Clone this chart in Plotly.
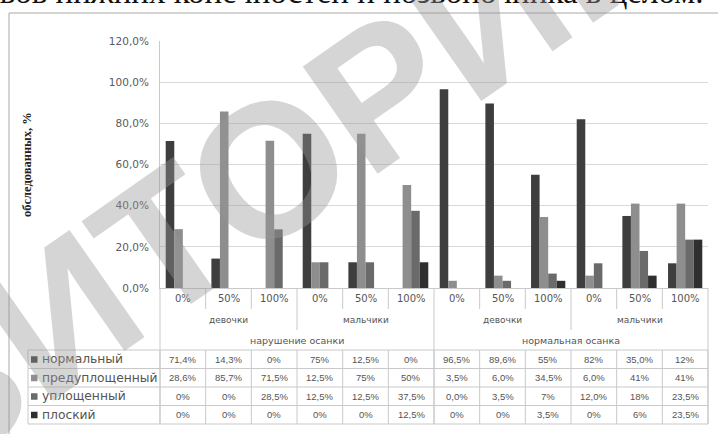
import plotly.graph_objects as go

# ---- data ---------------------------------------------------------------
categories = ["0%", "50%", "100%", "0%", "50%", "100%",
              "0%", "50%", "100%", "0%", "50%", "100%"]
subgroups = ["девочки", "мальчики", "девочки", "мальчики"]
groups = ["нарушение осанки", "нормальная осанка"]
series_names = ["нормальный", "предуплощенный", "уплощенный", "плоский"]

normal_lbl = ["71,4%", "14,3%", "0%", "75%", "12,5%", "0%",
              "96,5%", "89,6%", "55%", "82%", "35,0%", "12%"]
preflat_lbl = ["28,6%", "85,7%", "71,5%", "12,5%", "75%", "50%",
               "3,5%", "6,0%", "34,5%", "6,0%", "41%", "41%"]
flattened_lbl = ["0%", "0%", "28,5%", "12,5%", "12,5%", "37,5%",
                 "0,0%", "3,5%", "7%", "12,0%", "18%", "23,5%"]
flat_lbl = ["0%", "0%", "0%", "0%", "0%", "12,5%",
            "0%", "0%", "3,5%", "0%", "6%", "23,5%"]

y_ticks = [0, 20, 40, 60, 80, 100, 120]
y_tick_text = ["0,0%", "20,0%", "40,0%", "60,0%", "80,0%", "100,0%", "120,0%"]

series_labels = [normal_lbl, preflat_lbl, flattened_lbl, flat_lbl]
series_colors = ["#3e3e3e", "#8e8e8e", "#6a6a6a", "#2f2f2f"]


def pct(s):
    return float(s.rstrip("%").replace(",", "."))


# ---- geometry (pixels) --------------------------------------------------
W, H = 718, 434
PL, PR, PT, PB = 160, 708, 41, 288
N = len(categories)


def fx(p):
    return (p - PL) / (PR - PL)


def fy(p):
    return (PB - p) / (PB - PT)


def bx(b):
    # paper x of a boundary between categories (b = -0.5 ... N-0.5)
    return (b + 0.5) / N


fig = go.Figure()
for name, labels, color in zip(series_names, series_labels, series_colors):
    fig.add_trace(go.Bar(
        x=list(range(N)), y=[pct(s) for s in labels], name=name,
        marker=dict(color=color, line=dict(width=0)),
        showlegend=False,
    ))

axis_font = dict(family="DejaVu Sans", size=10.5, color="#5a5a5a")
small_font = dict(family="Liberation Sans Narrow, Liberation Sans", size=9.5, color="#555555")
label_font = dict(family="DejaVu Sans", size=10, color="#555555")
grid = "#d9d9d9"
line_c = "#c9c9c9"

shapes = []
annotations = []

# outer frame of the chart
shapes.append(dict(type="rect", xref="paper", yref="paper",
                   x0=fx(9), x1=fx(722), y0=fy(13), y1=fy(440),
                   line=dict(color="#a8a8a8", width=1), layer="below"))

# header separators below the category axis
for b in range(N + 1):
    bnd = b - 0.5
    if b in (0, 6, 12):
        y_end = 424
    elif b in (3, 9):
        y_end = 330
    else:
        y_end = 309
    shapes.append(dict(type="line", xref="paper", yref="paper",
                       x0=bx(bnd), x1=bx(bnd), y0=fy(PB), y1=fy(y_end),
                       line=dict(color=line_c, width=1)))
    # table column lines
    shapes.append(dict(type="line", xref="paper", yref="paper",
                       x0=bx(bnd), x1=bx(bnd), y0=fy(350), y1=fy(424),
                       line=dict(color=line_c, width=1)))

# table horizontal lines and left border
row_edges = [350, 368.5, 387, 405.5, 424]
for yy in row_edges:
    shapes.append(dict(type="line", xref="paper", yref="paper",
                       x0=fx(28), x1=fx(PR), y0=fy(yy), y1=fy(yy),
                       line=dict(color=line_c, width=1)))
shapes.append(dict(type="line", xref="paper", yref="paper",
                   x0=fx(28), x1=fx(28), y0=fy(350), y1=fy(424),
                   line=dict(color=line_c, width=1)))

# category labels (first header row)
for i, c in enumerate(categories):
    annotations.append(dict(x=i, y=fy(298.5), xref="x", yref="paper", text=c,
                            showarrow=False, font=label_font,
                            xanchor="center", yanchor="middle"))
# sub-group labels
for k, s in enumerate(subgroups):
    annotations.append(dict(x=3 * k + 1, y=fy(320), xref="x", yref="paper", text=s,
                            showarrow=False, font=dict(label_font, size=9),
                            xanchor="center", yanchor="middle"))
# group labels
for k, g in enumerate(groups):
    annotations.append(dict(x=6 * k + 2.5, y=fy(340), xref="x", yref="paper", text=g,
                            showarrow=False, font=dict(label_font, size=9.5),
                            xanchor="center", yanchor="middle"))

# data table rows
for r, (name, labels, color) in enumerate(zip(series_names, series_labels, series_colors)):
    yc = (row_edges[r] + row_edges[r + 1]) / 2
    shapes.append(dict(type="rect", xref="paper", yref="paper",
                       x0=fx(31), x1=fx(37.5), y0=fy(yc - 3), y1=fy(yc + 3.5),
                       fillcolor=color, line=dict(width=0)))
    annotations.append(dict(x=fx(40), y=fy(yc), xref="paper", yref="paper", text=name,
                            showarrow=False, font=dict(family="DejaVu Sans", size=12.3, color="#555555"),
                            xanchor="left", yanchor="middle"))
    for i, s in enumerate(labels):
        annotations.append(dict(x=i, y=fy(yc), xref="x", yref="paper", text=s,
                                showarrow=False, font=small_font,
                                xanchor="center", yanchor="middle"))

# y-axis title
annotations.append(dict(x=fx(27), y=fy(165), xref="paper", yref="paper",
                        text="<b>обследованных, %</b>", textangle=-90, showarrow=False,
                        font=dict(family="Liberation Serif", size=12.5, color="#222222"),
                        xanchor="center", yanchor="middle"))

# line of body text above the chart
annotations.append(dict(x=fx(705), y=fy(-8), xref="paper", yref="paper",
                        text="суставов нижних конечностей и позвоночника в целом.",
                        showarrow=False,
                        font=dict(family="Liberation Serif", size=33, color="#111111"),
                        xanchor="right", yanchor="middle"))

# repository watermark
annotations.append(dict(x=fx(282), y=fy(160), xref="paper", yref="paper",
                        text="<b>ЗИТОРИЙ</b>", textangle=-35, showarrow=False,
                        font=dict(family="Liberation Sans", size=190,
                                  color="rgba(150,150,150,0.4)"),
                        xanchor="center", yanchor="middle"))

fig.update_layout(
    width=W, height=H,
    margin=dict(l=PL, r=W - PR, t=PT, b=H - PB, pad=0),
    paper_bgcolor="white", plot_bgcolor="white",
    barmode="group", bargap=0.25, bargroupgap=0,
    shapes=shapes, annotations=annotations,
    xaxis=dict(range=[-0.5, N - 0.5], showticklabels=False, showgrid=False,
               zeroline=False, showline=True, linecolor=line_c, ticks=""),
    yaxis=dict(range=[0, 120], tickvals=y_ticks, ticktext=y_tick_text,
               showgrid=True, gridcolor=grid, zeroline=False,
               showline=True, linecolor=line_c, ticks="",
               ticklabelstandoff=8, tickfont=axis_font),
)

fig.write_html("out.html")
